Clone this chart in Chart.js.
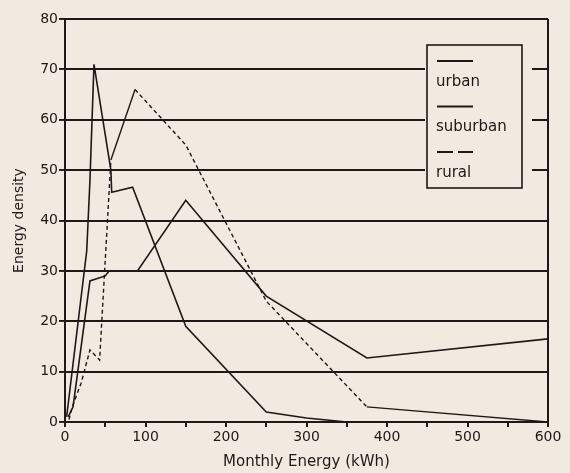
<!DOCTYPE html>
<html>
<head>
<meta charset="utf-8">
<script src="https://cdn.jsdelivr.net/npm/chart.js@4/dist/chart.umd.min.js"></script>
<style>
  html, body { margin: 0; padding: 0; background: #f1eae1; }
  #wrap { width: 570px; height: 473px; }
</style>
</head>
<body>
<div id="wrap"><canvas id="lineChart" width="570" height="473"></canvas></div>
<script>
// values
var urbanEnergy = [4, 10, 31, 50, 55, 90, 150, 250, 375, 600];
var urbanDensity = [1, 3, 28, 29, 30, 30, 44, 25, 12.7, 16.5];

var suburbanEnergy = [2, 27, 31, 36, 57, 58, 84, 150, 250, 300, 350, 600];
var suburbanDensity = [1, 34, 48, 71, 50, 45.6, 46.6, 19, 2, 0.8, 0, 0];

var ruralEnergy = [5, 9, 20, 31, 43, 57, 87, 150, 250, 375, 600];
var ruralDensity = [0.5, 3, 7.7, 14.3, 12.3, 52, 66, 55, 24, 3, 0];

var seriesLabels = ['urban', 'suburban', 'rural'];

var ink = '#1f1816';
var paper = '#f1eae1';

function toPoints(xs, ys) {
  var pts = [];
  for (var i = 0; i < xs.length; i++) {
    pts.push({ x: xs[i], y: ys[i] });
  }
  return pts;
}

// paper background
var paperBg = {
  id: 'paperBg',
  beforeDraw: function (chart) {
    var ctx = chart.ctx;
    ctx.save();
    ctx.fillStyle = paper;
    ctx.fillRect(0, 0, chart.width, chart.height);
    ctx.restore();
  }
};

// boxed legend: sample line above each label
var boxLegend = {
  id: 'boxLegend',
  afterDraw: function (chart) {
    var ctx = chart.ctx;
    var bx = 427, by = 45, bw = 95, bh = 143;
    ctx.save();
    ctx.fillStyle = paper;
    ctx.fillRect(bx - 2, by - 1, bw + 12, bh + 2);
    ctx.strokeStyle = ink;
    ctx.lineWidth = 1.6;
    ctx.strokeRect(bx, by, bw, bh);
    ctx.font = '15px "DejaVu Sans"';
    ctx.fillStyle = ink;
    ctx.textBaseline = 'middle';
    chart.data.datasets.forEach(function (ds, i) {
      var ly = 61 + i * 45.5;
      ctx.beginPath();
      ctx.setLineDash(ds.borderDash && ds.borderDash.length ? [16, 5] : []);
      ctx.lineWidth = 1.8;
      ctx.moveTo(437, ly);
      ctx.lineTo(473, ly);
      ctx.stroke();
      ctx.setLineDash([]);
      ctx.fillText(ds.label, 436, ly + 21);
    });
    ctx.restore();
  }
};

var ctx = document.getElementById('lineChart').getContext('2d');

new Chart(ctx, {
  type: 'line',
  data: {
    datasets: [
      {
        label: seriesLabels[0],
        data: toPoints(urbanEnergy, urbanDensity),
        borderColor: ink,
        borderWidth: 1.6,
        pointRadius: 0,
        tension: 0
      },
      {
        label: seriesLabels[1],
        data: toPoints(suburbanEnergy, suburbanDensity),
        borderColor: ink,
        borderWidth: 1.6,
        pointRadius: 0,
        tension: 0
      },
      {
        label: seriesLabels[2],
        data: toPoints(ruralEnergy, ruralDensity),
        borderColor: ink,
        borderWidth: 1.4,
        borderDash: [4, 3],
        // the climb to the peak and the tail past 375 are drawn solid in the scan
        segment: {
          borderDash: function (c) { return (c.p0DataIndex === 5 || c.p0DataIndex === 9) ? [] : [4, 3]; }
        },
        pointRadius: 0,
        tension: 0
      }
    ]
  },
  options: {
    responsive: false,
    animation: false,
    layout: { padding: { left: 0, right: 22, top: 19, bottom: 0 } },
    plugins: {
      legend: { display: false },
      tooltip: { enabled: false }
    },
    scales: {
      x: {
        type: 'linear',
        min: 0,
        max: 600,
        afterFit: function (s) { s.height = 51; },
        border: { display: true, color: ink, width: 2 },
        grid: {
          color: function (c) { return c.tick && c.tick.value === 600 ? ink : 'rgba(0,0,0,0)'; },
          tickColor: ink,
          lineWidth: 2,
          tickLength: 5
        },
        ticks: {
          stepSize: 50,
          padding: 2,
          color: ink,
          font: { family: '"DejaVu Sans"', size: 14 },
          maxRotation: 0,
          autoSkip: false,
          callback: function (v) { return v % 100 === 0 ? v : ''; }
        },
        title: {
          display: true,
          text: 'Monthly Energy (kWh)',
          color: ink,
          font: { family: '"DejaVu Sans"', size: 15 },
          padding: { top: 0, bottom: 2 }
        }
      },
      y: {
        min: 0,
        max: 80,
        afterFit: function (s) { s.width = 65; },
        border: { display: true, color: ink, width: 2 },
        grid: {
          color: ink,
          lineWidth: 1.9,
          tickLength: 6
        },
        ticks: {
          stepSize: 10,
          padding: 1,
          color: ink,
          font: { family: '"DejaVu Sans"', size: 14 }
        },
        title: {
          display: true,
          text: 'Energy density',
          color: ink,
          font: { family: '"DejaVu Sans"', size: 14 },
          padding: { top: 11, bottom: 0 }
        }
      }
    }
  },
  plugins: [paperBg, boxLegend]
});
</script>
</body>
</html>
